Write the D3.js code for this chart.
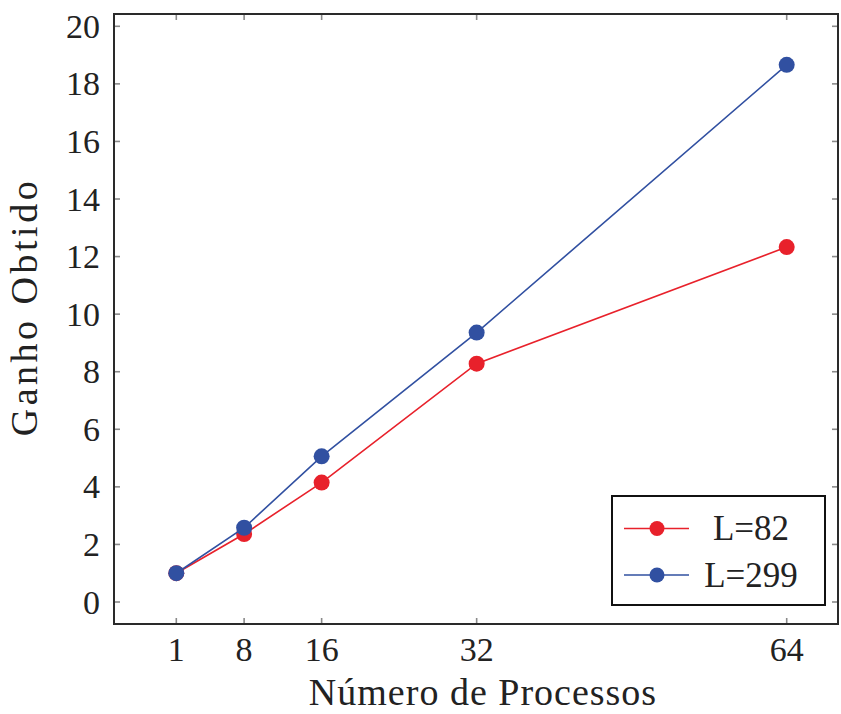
<!DOCTYPE html>
<html>
<head>
<meta charset="utf-8">
<script src="https://cdn.jsdelivr.net/npm/d3@7"></script>
<style>
  html, body { margin: 0; padding: 0; background: #fff; }
  svg { display: block; }
  text { font-family: "Liberation Serif", "Times New Roman", Tinos, Times, "DejaVu Serif", "Noto Serif", serif; fill: #222; }
</style>
</head>
<body>
<svg id="chart" width="841" height="714"></svg>
<script>
const processes = [1, 8, 16, 32, 64];
const xTicks = [1, 8, 16, 32, 64];
const yTicks = [0, 2, 4, 6, 8, 10, 12, 14, 16, 18, 20];
const seriesNames = ["L=82", "L=299"];
const seriesColors = ["#e8212b", "#3150a1"];
const gainL82 = [1.0, 2.36, 4.15, 8.28, 12.33];
const gainL299 = [1.0, 2.58, 5.06, 9.36, 18.66];
const xLabel = "Número de Processos";
const yLabel = "Ganho Obtido";

const svg = d3.select("#chart");
const box = { left: 114, top: 14, right: 838, bottom: 624 };

const x = d3.scaleLinear().domain([1, 64]).range([176.3, 786.7]);
const y = d3.scaleLinear().domain([0, 20]).range([602, 26.3]);

const series = [
  { name: seriesNames[0], color: seriesColors[0], values: gainL82 },
  { name: seriesNames[1], color: seriesColors[1], values: gainL299 }
];

const tickColor = "#8a8a8a";
const tickLen = 6;
const axisG = svg.append("g");
axisG.selectAll("line.yl").data(yTicks).join("line")
  .attr("x1", box.left).attr("x2", box.left + tickLen)
  .attr("y1", d => y(d)).attr("y2", d => y(d))
  .attr("stroke", tickColor).attr("stroke-width", 1.6);
axisG.selectAll("line.yr").data(yTicks).join("line")
  .attr("x1", box.right).attr("x2", box.right - tickLen)
  .attr("y1", d => y(d)).attr("y2", d => y(d))
  .attr("stroke", tickColor).attr("stroke-width", 1.6);
axisG.selectAll("line.xb").data(xTicks).join("line")
  .attr("x1", d => x(d)).attr("x2", d => x(d))
  .attr("y1", box.bottom).attr("y2", box.bottom - tickLen)
  .attr("stroke", tickColor).attr("stroke-width", 1.6);
axisG.selectAll("line.xt").data(xTicks).join("line")
  .attr("x1", d => x(d)).attr("x2", d => x(d))
  .attr("y1", box.top).attr("y2", box.top + tickLen)
  .attr("stroke", tickColor).attr("stroke-width", 1.6);

axisG.selectAll("text.yt").data(yTicks).join("text")
  .attr("x", box.left - 14).attr("y", d => y(d))
  .attr("dy", "0.34em")
  .attr("text-anchor", "end")
  .attr("font-size", 34)
  .text(d => d);
axisG.selectAll("text.xt").data(xTicks).join("text")
  .attr("x", d => x(d)).attr("y", 661)
  .attr("text-anchor", "middle")
  .attr("font-size", 34)
  .text(d => d);

svg.append("rect")
  .attr("x", box.left).attr("y", box.top)
  .attr("width", box.right - box.left).attr("height", box.bottom - box.top)
  .attr("fill", "none").attr("stroke", "#2a2a2a").attr("stroke-width", 2);

const line = d3.line().x((d, i) => x(processes[i])).y(d => y(d));
const plotG = svg.append("g");
series.forEach(s => {
  plotG.append("path").datum(s.values)
    .attr("d", line).attr("fill", "none")
    .attr("stroke", s.color).attr("stroke-width", 1.6);
  plotG.selectAll(null).data(s.values).join("circle")
    .attr("cx", (d, i) => x(processes[i])).attr("cy", d => y(d))
    .attr("r", 8).attr("fill", s.color);
});

svg.append("text")
  .attr("x", 483).attr("y", 705)
  .attr("text-anchor", "middle").attr("font-size", 38)
  .attr("letter-spacing", 1)
  .text(xLabel);
svg.append("text")
  .attr("transform", `translate(37, 307) rotate(-90)`)
  .attr("text-anchor", "middle").attr("font-size", 38)
  .attr("letter-spacing", 3.5)
  .text(yLabel);

const lg = svg.append("g");
lg.append("rect").attr("x", 612).attr("y", 496).attr("width", 213).attr("height", 109)
  .attr("fill", "#fff").attr("stroke", "#111").attr("stroke-width", 2);
series.forEach((s, i) => {
  const ly = 528.5 + i * 46.5;
  lg.append("line").attr("x1", 624).attr("x2", 689).attr("y1", ly).attr("y2", ly)
    .attr("stroke", s.color).attr("stroke-width", 1.6);
  lg.append("circle").attr("cx", 657).attr("cy", ly).attr("r", 7.5).attr("fill", s.color);
  lg.append("text").attr("x", 751).attr("y", ly).attr("dy", "0.34em")
    .attr("text-anchor", "middle").attr("font-size", 35)
    .text(s.name);
});
</script>
</body>
</html>
